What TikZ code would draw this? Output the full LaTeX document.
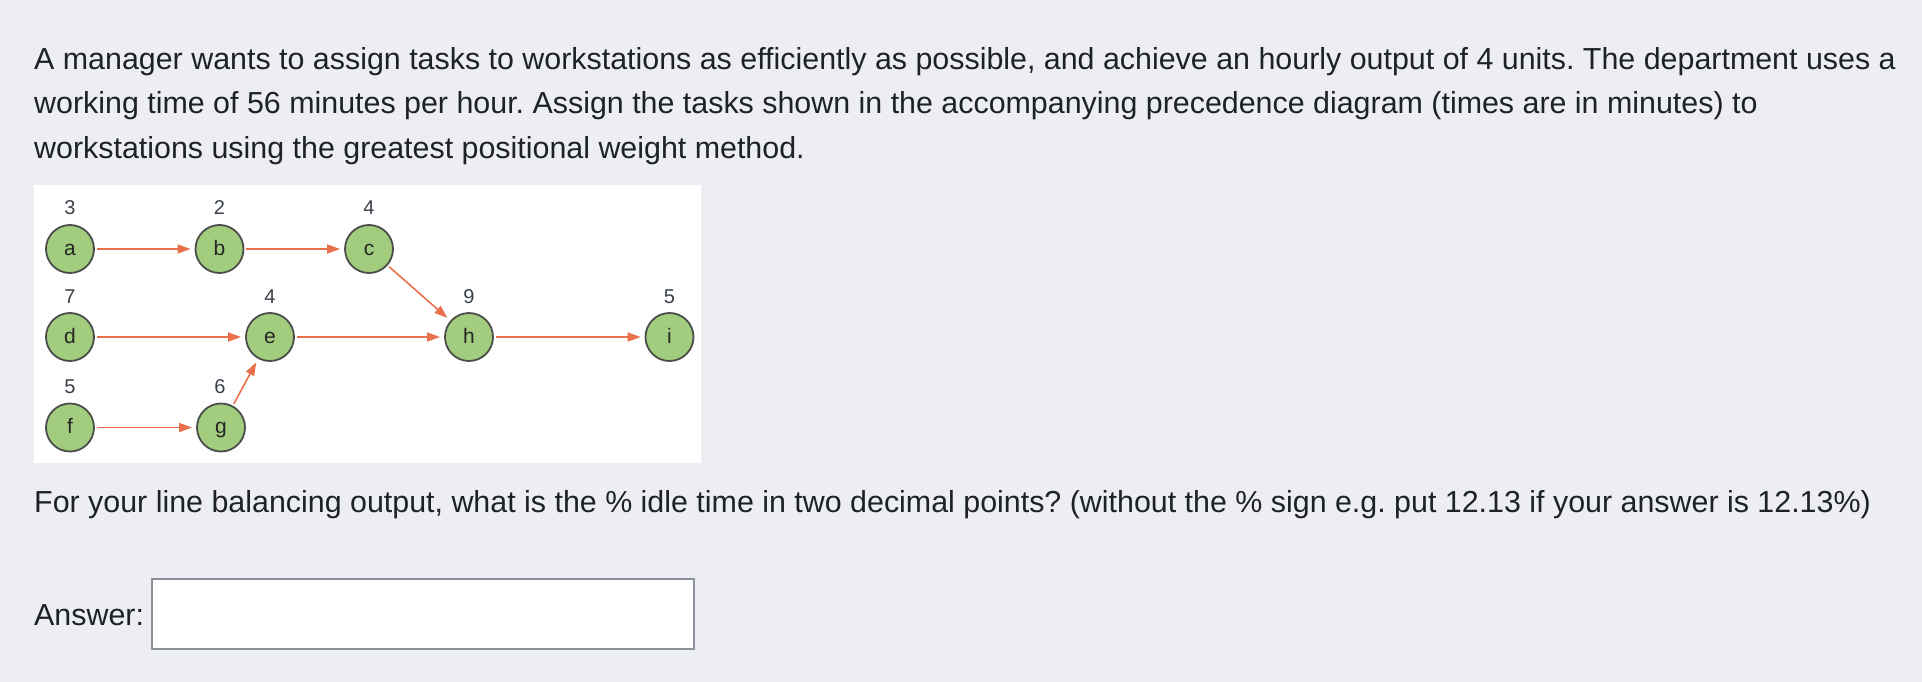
\documentclass[tikz,border=0pt]{standalone}
\usepackage{fontspec}
\setmainfont{Liberation Sans}
\usetikzlibrary{arrows.meta}
\definecolor{bg}{HTML}{EDEEF3}
\definecolor{txt}{HTML}{1E2228}
\definecolor{nodefill}{HTML}{A3CD7E}
\definecolor{nodeline}{HTML}{4A4D4A}
\definecolor{arrowc}{HTML}{E8714C}
\definecolor{lbl}{HTML}{3A4049}
\definecolor{boxline}{HTML}{8C9097}
\frenchspacing
\begin{document}
\begin{tikzpicture}[x=1pt,y=-1pt,
  body/.style={anchor=base west, inner sep=0, text=txt, font=\fontsize{30.4}{36}\selectfont},
  task/.style={circle, draw=nodeline, line width=1.8pt, fill=nodefill, minimum size=48pt, inner sep=0,
    text height=12pt, text depth=0pt, font=\fontsize{21}{21}\selectfont, text=black!85},
  wt/.style={inner sep=0, text=lbl, font=\fontsize{20}{20}\selectfont},
  prec/.style={draw=arrowc, line width=1.6pt, -{Triangle[length=13pt,width=9pt]}, shorten >=4pt, shorten <=2pt}]
\fill[bg] (0,0) rectangle (1922,682);
\useasboundingbox (0,0) rectangle (1922,682);
\node[body] (t1) at (34,69.5) {A manager wants to assign tasks to workstations as efficiently as possible, and achieve an hourly output of 4 units. The department uses a};
\node[body] (t2) at (34,114) {working time of 56 minutes per hour. Assign the tasks shown in the accompanying precedence diagram (times are in minutes) to};
\node[body] (t3) at (34,158.5) {workstations using the greatest positional weight method.};
\fill[white] (34,185) rectangle (701,463);
\node[task] (a) at (70,249) {a};
\node[task] (b) at (219.5,249) {b};
\node[task] (c) at (369,249) {c};
\node[task] (d) at (70,337) {d};
\node[task] (e) at (270,337) {e};
\node[task] (h) at (469,337) {h};
\node[task] (i) at (669.5,337) {i};
\node[task] (f) at (70,427.5) {f};
\node[task] (g) at (221,427.5) {g};
\node[wt] (wa) at (70,207.5) {3};
\node[wt] (wb) at (219.5,207.5) {2};
\node[wt] (wc) at (369,207.5) {4};
\node[wt] (wd) at (70,297) {7};
\node[wt] (we) at (270,297) {4};
\node[wt] (wh) at (469,297) {9};
\node[wt] (wi) at (669.5,297) {5};
\node[wt] (wf) at (70,387) {5};
\node[wt] (wg) at (220,387) {6};
\draw[prec] (a) -- (b);
\draw[prec] (b) -- (c);
\draw[prec] (c) -- (h);
\draw[prec] (d) -- (e);
\draw[prec] (e) -- (h);
\draw[prec] (h) -- (i);
\draw[prec] (f) -- (g);
\draw[prec] (g) -- (e);
\node[body] (q) at (34,512) {For your line balancing output, what is the \% idle time in two decimal points? (without the \% sign e.g. put 12.13 if your answer is 12.13\%)};
\node[body] (ans) at (34,625) {Answer:};
\node[draw=boxline, line width=1.5pt, fill=white, anchor=north west, minimum width=542pt, minimum height=70pt, inner sep=0] (ansbox) at (151,578) {};
\end{tikzpicture}
\end{document}
